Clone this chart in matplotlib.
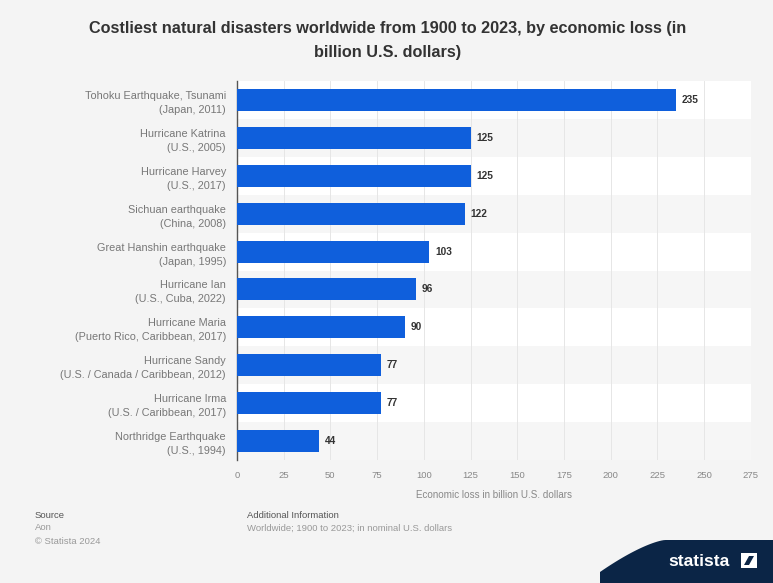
import matplotlib.pyplot as plt
import matplotlib.patches as mpatches
import numpy as np

plt.rcParams['font.family'] = ['Liberation Sans', 'DejaVu Sans']

# disaster names and their economic loss (billion U.S. dollars)
disasters = [
    'Tohoku Earthquake, Tsunami\n(Japan, 2011)',
    'Hurricane Katrina\n(U.S., 2005)',
    'Hurricane Harvey\n(U.S., 2017)',
    'Sichuan earthquake\n(China, 2008)',
    'Great Hanshin earthquake\n(Japan, 1995)',
    'Hurricane Ian\n(U.S., Cuba, 2022)',
    'Hurricane Maria\n(Puerto Rico, Caribbean, 2017)',
    'Hurricane Sandy\n(U.S. / Canada / Caribbean, 2012)',
    'Hurricane Irma\n(U.S. / Caribbean, 2017)',
    'Northridge Earthquake\n(U.S., 1994)',
]
loss = [235, 125, 125, 122, 103, 96, 90, 77, 77, 44]
xticks = [0, 25, 50, 75, 100, 125, 150, 175, 200, 225, 250, 275]

W, H = 773, 583
bg = '#f4f4f4'
fig = plt.figure(figsize=(W / 100, H / 100), dpi=100, facecolor=bg)

ax = fig.add_axes([237 / W, 1 - 460 / H, (750.7 - 237) / W, 379 / H])
ax.set_facecolor('#f7f7f7')

y = np.arange(len(loss))
# alternating row bands
for i in y:
    ax.axhspan(i - 0.5, i + 0.5, color='#ffffff' if i % 2 == 0 else '#f6f6f6', zorder=0, lw=0)
for t in xticks:
    ax.axvline(t, color='#e6e6e6', lw=0.7, zorder=1)

ax.barh(y, loss, height=0.58, color='#0f5fdc', zorder=3)
for yi, v in zip(y, loss):
    ax.text(v + 3, yi, f'{v}', va='center', ha='left', fontsize=7.3,
            color='#333333', fontweight='bold')

ax.set_xlim(0, 275)
ax.set_ylim(len(loss) - 0.5, -0.5)
ax.set_yticks(y)
ax.set_yticklabels(disasters, fontsize=7.8, color='#777777', ha='right',
                   multialignment='right', linespacing=1.5)
ax.set_xticks(xticks)
ax.set_xticklabels([str(t) for t in xticks], fontsize=6.8, color='#888888')
ax.tick_params(axis='both', length=0, pad=8)
ax.tick_params(axis='y', pad=8)
for s in ['top', 'right', 'bottom']:
    ax.spines[s].set_visible(False)
ax.spines['left'].set_color('#555555')
ax.spines['left'].set_linewidth(1.0)
ax.set_xlabel('Economic loss in billion U.S. dollars', fontsize=7.1, color='#888888', labelpad=7)

# title
fig.text(388 / W, 1 - 28 / H, 'Costliest natural disasters worldwide from 1900 to 2023, by economic loss (in',
         ha='center', va='center', fontsize=11.7, fontweight='bold', color='#333333')
fig.text(388 / W, 1 - 53 / H, 'billion U.S. dollars)',
         ha='center', va='center', fontsize=11.7, fontweight='bold', color='#333333')

# footer
fs = 6.8
fig.text(35 / W, 1 - 515 / H, 'Source', fontsize=fs, color='#555555', va='center')
fig.text(35 / W, 1 - 528 / H, 'Aon', fontsize=fs, color='#999999', va='center')
fig.text(35 / W, 1 - 541 / H, '© Statista 2024', fontsize=fs, color='#999999', va='center')
fig.text(247 / W, 1 - 515 / H, 'Additional Information', fontsize=fs, color='#555555', va='center')
fig.text(247 / W, 1 - 528 / H, 'Worldwide; 1900 to 2023; in nominal U.S. dollars', fontsize=fs,
         color='#999999', va='center')

# logo band
xs = np.linspace(600, W, 80)
ys = 540 + 32 * np.clip((665 - xs) / 65, 0, 1) ** 1.4
band = np.column_stack([np.r_[xs, W, 600], np.r_[ys, H, H]])
band[:, 0] /= W
band[:, 1] = 1 - band[:, 1] / H
fig.patches.append(mpatches.Polygon(band, closed=True, transform=fig.transFigure,
                                    facecolor='#0b2546', edgecolor='none'))
fig.text(699 / W, 1 - 561 / H, 'statista', ha='center', va='center', fontsize=12.5,
         fontweight='bold', color='white')
icon = np.array([[741, 568], [757, 568], [757, 553], [741, 553]], dtype=float)
icon[:, 0] /= W
icon[:, 1] = 1 - icon[:, 1] / H
fig.patches.append(mpatches.Polygon(icon, closed=True, transform=fig.transFigure,
                                    facecolor='white', edgecolor='none'))
slash = np.array([[744, 565], [749, 565], [754, 556], [749, 556]], dtype=float)
slash[:, 0] /= W
slash[:, 1] = 1 - slash[:, 1] / H
fig.patches.append(mpatches.Polygon(slash, closed=True, transform=fig.transFigure,
                                    facecolor='#0b2546', edgecolor='none'))

fig.savefig('out.png', dpi=100, facecolor=bg)
